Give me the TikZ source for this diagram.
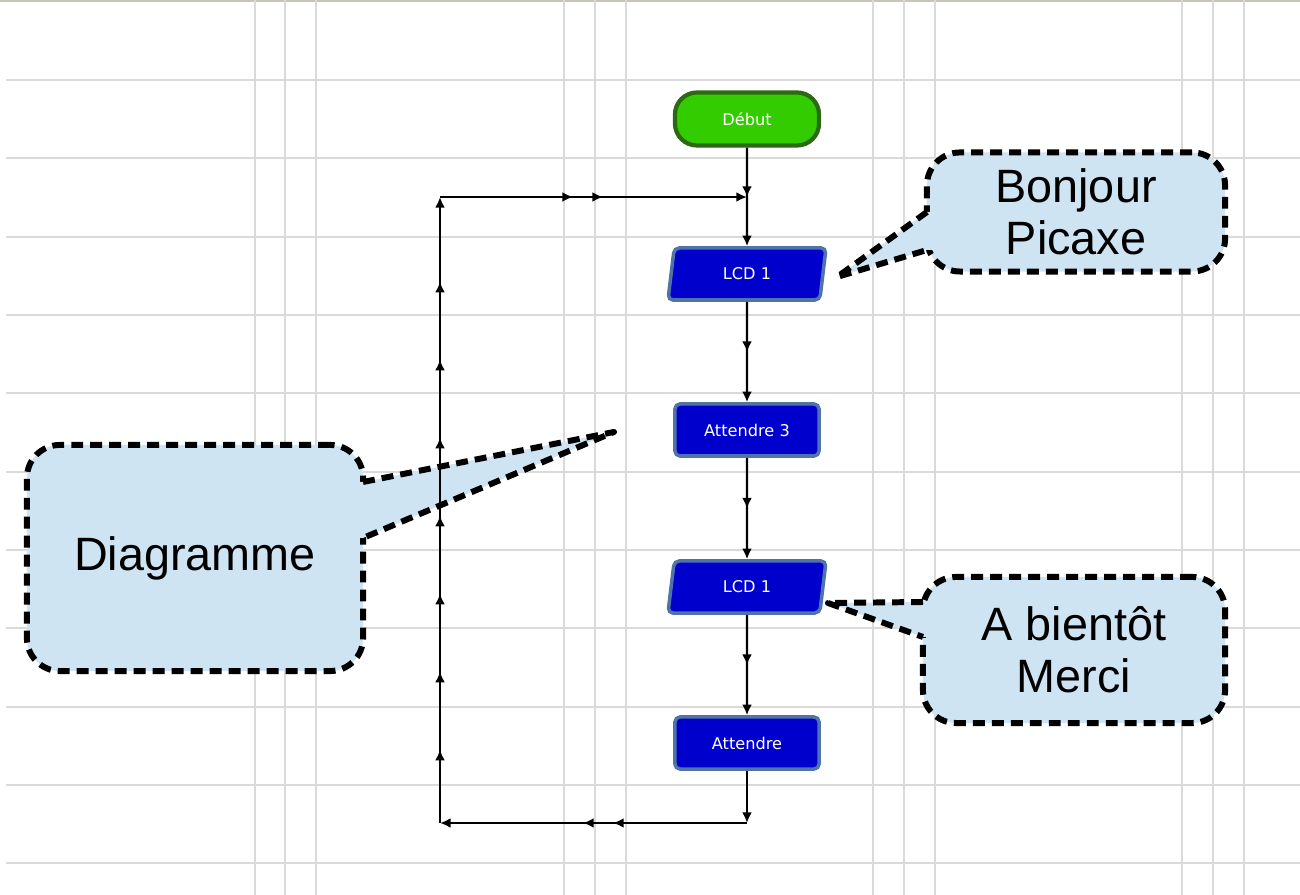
\documentclass[tikz,border=0pt]{standalone}
\usepackage{fontspec}
\usetikzlibrary{shapes.geometric,decorations.markings,arrows.meta}
\newfontfamily\bullefont{Liberation Sans}
\newfontfamily\blocfont{DejaVu Sans}
\definecolor{grille}{RGB}{218,218,218}
\definecolor{bord}{RGB}{200,196,182}
\definecolor{vert}{RGB}{51,204,0}
\definecolor{vertfonce}{RGB}{45,105,20}
\definecolor{bleu}{RGB}{0,0,204}
\definecolor{bleubord}{RGB}{80,115,170}
\definecolor{ciel}{RGB}{207,228,242}
\tikzset{>={Latex[length=3pt,width=2.8pt]}}
\tikzset{
  midarrow/.style={postaction={decorate,decoration={markings,mark=at position 0.5 with {\arrow{>}}}}},
  bulletrait/.style={draw=black,line width=1.7pt,dash pattern=on 3.4pt off 2pt,line join=round},
  bulle/.style={bulletrait,rectangle,rounded corners=0.33cm,fill=ciel,align=center,
    font=\bullefont\fontsize{13.3}{14.8}\selectfont},
  bloc/.style={rectangle,rounded corners=0.05cm,fill=bleu,draw=bleubord,line width=1pt,
    minimum width=1.44cm,minimum height=0.52cm,text=white,
    font=\blocfont\fontsize{4.6}{5}\selectfont},
}

\begin{document}
\begin{tikzpicture}[x=0.01cm,y=-0.01cm]
\useasboundingbox (0,0) rectangle (1300,895);
% grille
\draw[bord,line width=0.6pt] (0,1) -- (1300,1);
\foreach \y in {80,158,237,315,393,472,550,628,707,785,863}
  \draw[grille,line width=0.55pt] (6,\y) -- (1300,\y);
\foreach \x in {255,285,316,564,595,626,873,904,935,1182,1213,1244}
  \draw[grille,line width=0.55pt] (\x,0) -- (\x,895);

\begin{scope}[every node/.style={bloc}]
\node (debut) [rounded corners=0.22cm,fill=vert,draw=vertfonce,line width=1.2pt,minimum height=0.53cm] at (747,119) {Début};
\node (lcdA) [trapezium,trapezium left angle=80,trapezium right angle=100,trapezium stretches body,minimum width=1.58cm] at (747,274) {LCD 1};
\node (att3) at (747,430) {Attendre 3};
\node (lcdB) [trapezium,trapezium left angle=80,trapezium right angle=100,trapezium stretches body,minimum width=1.58cm] at (747,587) {LCD 1};
\node (att) at (747,743) {Attendre};
\end{scope}

\coordinate (coinBD) at (747,823);
\coordinate (coinBG) at (440,823);
\coordinate (coinHG) at (440,197);
\coordinate (coinHD) at (747,197);

% bulles
\coordinate (pointeBonjour) at (837,277);
\coordinate (pointeDiag) at (614,432);
\coordinate (pointeMerci) at (828,603);

\node (bonjour) [bulle,minimum width=2.98cm,minimum height=1.19cm] at (1076,212) {Bonjour\\Picaxe};
\fill[ciel] (940,212) -- (927,212) -- (pointeBonjour) -- (927,250) -- (940,250) -- cycle;
\draw[bulletrait] (927,212) -- (pointeBonjour) -- (927,250);

\node (diagramme) [bulle,minimum width=3.36cm,minimum height=2.26cm] at (195,558) {Diagramme};
\fill[ciel] (350,482) -- (363,482) -- (pointeDiag) -- (363,538) -- (350,538) -- cycle;
\draw[bulletrait] (363,482) -- (pointeDiag) -- (363,538);

\node (merci) [bulle,minimum width=3.02cm,minimum height=1.46cm] at (1074,650) {A bientôt\\Merci};
\fill[ciel] (936,602) -- (923,602) -- (pointeMerci) -- (923,637) -- (936,637) -- cycle;
\draw[bulletrait] (923,602) -- (pointeMerci) -- (923,637);

\begin{scope}[every edge/.style={draw=black,line width=0.6pt}]
    \path [->] (debut) edge [midarrow] (lcdA);
    \path [->] (lcdA) edge [midarrow] (att3);
    \path [->] (att3) edge [midarrow] (lcdB);
    \path [->] (lcdB) edge [midarrow] (att);
    \path [->] (att) edge (coinBD);

    %\path [->] (coinBD) edge (coinBG);
    \path [->] (coinBD) edge [postaction={decorate,decoration={markings,
        mark=at position 0.436 with {\arrow{>}},mark=at position 0.534 with {\arrow{>}}}}] (coinBG);
    \path [->] (coinBG) edge [postaction={decorate,decoration={markings,
        mark=between positions 0.117 and 0.87 step 0.1246 with {\arrow{>}}}}] (coinHG);
    \path [->] (coinHG) edge [postaction={decorate,decoration={markings,
        mark=at position 0.433 with {\arrow{>}},mark=at position 0.531 with {\arrow{>}}}}] (coinHD);
\end{scope}
\end{tikzpicture}
\end{document}
